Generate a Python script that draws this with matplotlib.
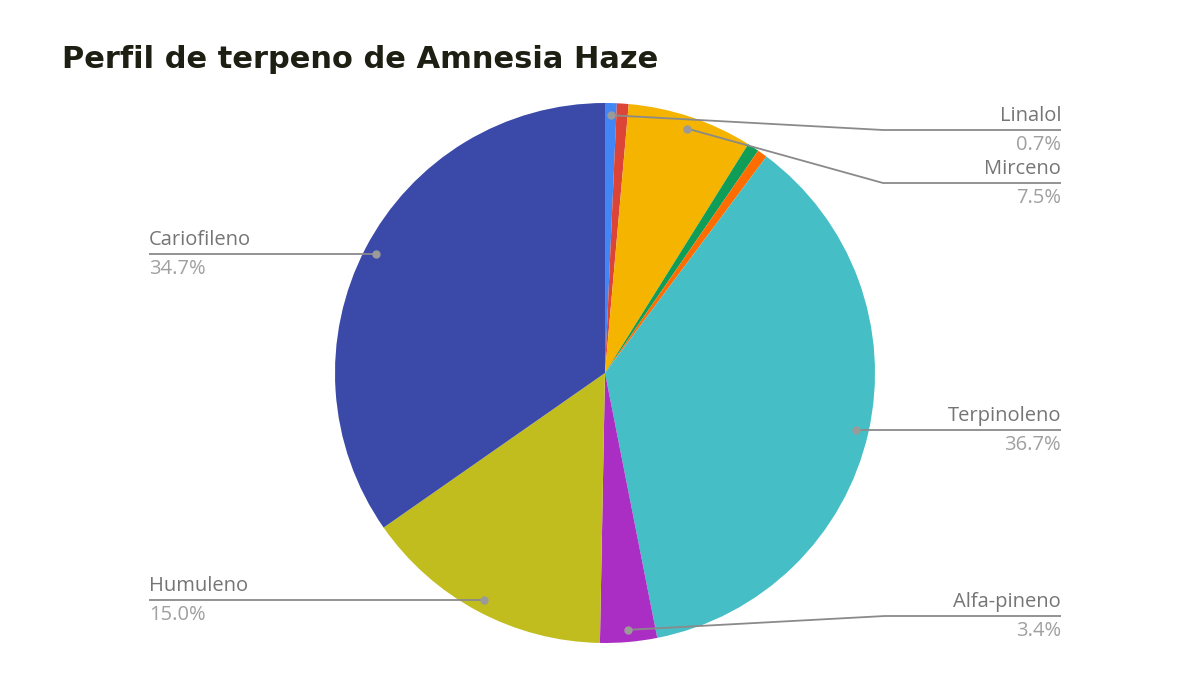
import numpy as np
import matplotlib
matplotlib.use('Agg')
import matplotlib.pyplot as plt

# datos del gráfico (sentido horario desde las 12)
terpenos = ['Linalol', '', 'Mirceno', '', '', 'Terpinoleno', 'Alfa-pineno', 'Humuleno', 'Cariofileno']
porcentajes = [0.7, 0.7, 7.5, 0.7, 0.6, 36.7, 3.4, 15.0, 34.7]
colores = ['#4285F4', '#DB4437', '#F4B400', '#0F9D58', '#FF6D01',
           '#45BEC6', '#AB2EC4', '#C1BD1F', '#3B4AA8']

W, H = 1200, 679
fig = plt.figure(figsize=(12, 6.79), dpi=100)
ax = fig.add_axes([0, 0, 1, 1])

cx, cy, R = 605, H - 373, 270
ax.pie(porcentajes, colors=colores, startangle=90, counterclock=False,
       center=(cx, cy), radius=R, frame=True,
       wedgeprops=dict(linewidth=0))
ax.set_xlim(0, W)
ax.set_ylim(0, H)
ax.set_aspect('equal')
ax.axis('off')

fig.text(62 / W, 1 - 60 / H, 'Perfil de terpeno de Amnesia Haze',
         fontsize=22, fontweight='bold', color='#1c1f12',
         family='DejaVu Sans', va='center', ha='left')

# posición de las etiquetas (px desde arriba): lado, y de la línea, codo x
layout = {
    'Linalol': ('r', 130, 883),
    'Mirceno': ('r', 183, 883),
    'Terpinoleno': ('r', None, None),
    'Alfa-pineno': ('r', 616, 885),
    'Cariofileno': ('l', None, None),
    'Humuleno': ('l', None, None),
}

acum = np.cumsum(porcentajes) - np.array(porcentajes) / 2
total = sum(porcentajes)
line_c = '#8a8a8a'
for nombre, pct, mid in zip(terpenos, porcentajes, acum):
    if not nombre:
        continue
    ang = np.deg2rad(mid / total * 360)
    ax_x = cx + 0.955 * R * np.sin(ang)
    ax_y = cy + 0.955 * R * np.cos(ang)
    lado, ly, codo = layout[nombre]
    ly = ax_y if ly is None else H - ly
    if lado == 'r':
        x_end = 1061
        xs = [ax_x] + ([codo] if codo else []) + [x_end]
        ys = [ax_y] + ([ly] if codo else []) + [ly]
        tx, ha = x_end, 'right'
    else:
        xs = [ax_x, 149]
        ys = [ly, ly]
        tx, ha = 149, 'left'
    ax.plot(xs, ys, color=line_c, lw=1.3, solid_capstyle='butt')
    ax.plot([ax_x], [ax_y], 'o', color='#9a9a9a', ms=5)
    ax.text(tx, ly + 4, nombre, ha=ha, va='bottom', fontsize=14.5,
            color='#757575', family='Open Sans')
    ax.text(tx, ly - 5, f'{pct:.1f}%', ha=ha, va='top', fontsize=14.5,
            color='#a0a0a0', family='Open Sans')

fig.savefig('out.png', dpi=100, facecolor='white')
